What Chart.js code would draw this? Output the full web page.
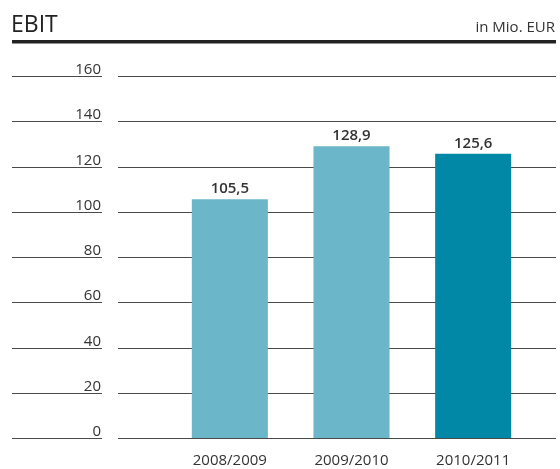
<!DOCTYPE html>
<html>
<head>
<meta charset="utf-8">
<script src="https://cdn.jsdelivr.net/npm/chart.js@4/dist/chart.umd.min.js"></script>
<style>
html,body{margin:0;padding:0;background:#fff;}
#wrap{width:560px;height:469px;position:relative;}
</style>
</head>
<body>
<div id="wrap"><canvas id="c" width="560" height="469"></canvas></div>
<script>
const categories = ["2008/2009", "2009/2010", "2010/2011"];
const ebitValues = [105.5, 128.9, 125.6];
const valueLabels = ["105,5", "128,9", "125,6"];
const yTicks = [0, 20, 40, 60, 80, 100, 120, 140, 160];
const barColors = ["#6bb6c9", "#6bb6c9", "#0088a6"];

const FONT = '"Open Sans", "Noto Sans", sans-serif';
const TEXT = '#333333';

const decor = {
  id: 'decor',
  beforeDatasetsDraw(chart) {
    const ctx = chart.ctx;
    const y = chart.scales.y;
    ctx.save();
    // header
    ctx.fillStyle = '#222';
    ctx.font = '23px ' + FONT;
    ctx.textAlign = 'left';
    ctx.textBaseline = 'alphabetic';
    ctx.fillText('EBIT', 11, 32);
    ctx.font = '15px ' + FONT;
    ctx.textAlign = 'right';
    ctx.fillStyle = TEXT;
    ctx.fillText('in Mio. EUR', 555, 32);
    ctx.fillStyle = '#222';
    ctx.fillRect(12, 40, 544, 3.5);
    // grid + tick labels
    ctx.strokeStyle = '#4a4a4a';
    ctx.lineWidth = 1;
    ctx.font = '15px ' + FONT;
    ctx.fillStyle = TEXT;
    ctx.textAlign = 'right';
    yTicks.forEach(v => {
      const py = Math.round(y.getPixelForValue(v)) + 0.5;
      ctx.beginPath();
      ctx.moveTo(12, py); ctx.lineTo(102, py);
      ctx.moveTo(118, py); ctx.lineTo(556, py);
      ctx.stroke();
      ctx.fillText(String(v), 101, py - 3);
    });
    ctx.restore();
  },
  afterDatasetsDraw(chart) {
    const ctx = chart.ctx;
    const x = chart.scales.x;
    const meta = chart.getDatasetMeta(0);
    ctx.save();
    ctx.fillStyle = TEXT;
    ctx.textAlign = 'center';
    ctx.textBaseline = 'alphabetic';
    ctx.font = '15px ' + FONT;
    categories.forEach((c, i) => {
      ctx.fillText(c, x.getPixelForValue(i), 465);
    });
    ctx.font = '600 15px ' + FONT;
    ctx.fillStyle = '#333';
    meta.data.forEach((bar, i) => {
      ctx.fillText(valueLabels[i], bar.x, bar.y - 6);
    });
    ctx.restore();
  }
};

new Chart(document.getElementById('c'), {
  type: 'bar',
  data: {
    labels: categories,
    datasets: [{
      data: ebitValues,
      backgroundColor: barColors,
      borderWidth: 0,
      categoryPercentage: 1,
      barPercentage: 0.625
    }]
  },
  options: {
    responsive: false,
    animation: false,
    devicePixelRatio: 1,
    layout: { padding: { left: 169, right: 26, top: 76, bottom: 31 } },
    plugins: { legend: { display: false }, tooltip: { enabled: false } },
    scales: {
      x: { display: false },
      y: { display: false, min: 0, max: 160 }
    }
  },
  plugins: [decor]
});
</script>
</body>
</html>
